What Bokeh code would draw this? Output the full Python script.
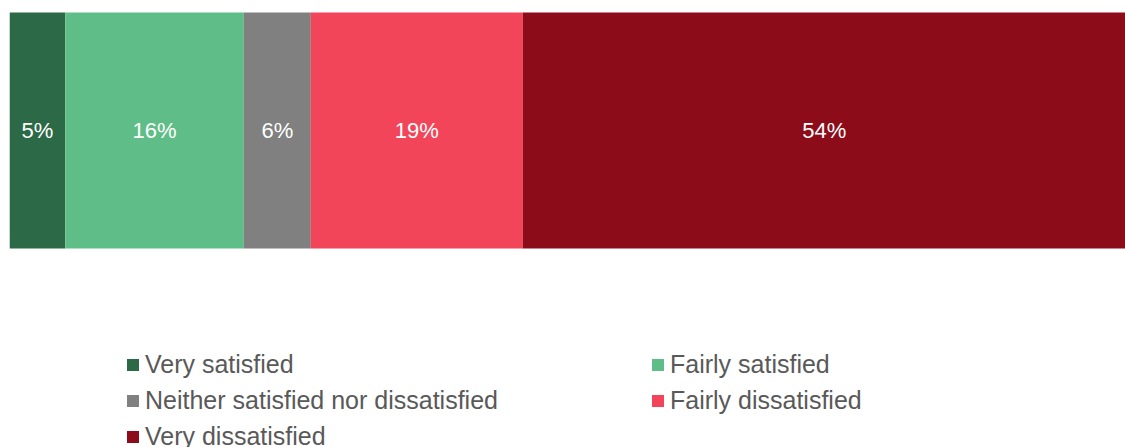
from bokeh.plotting import figure
from bokeh.models import Range1d, Legend, LegendItem, ColumnDataSource
from bokeh.embed import file_html
from bokeh.resources import INLINE
from bokeh.core.properties import value

categories = ["Very satisfied", "Fairly satisfied", "Neither satisfied nor dissatisfied",
              "Fairly dissatisfied", "Very dissatisfied"]
values = [5, 16, 6, 19, 54]
labels = ["5%", "16%", "6%", "19%", "54%"]
colors = ["#2C6946", "#5FBE87", "#808080", "#F24559", "#8C0C19"]

lefts = []
acc = 0
for v in values:
    lefts.append(acc)
    acc += v
rights = [l + v for l, v in zip(lefts, values)]
mids = [(l + r) / 2 for l, r in zip(lefts, rights)]

p = figure(width=1125, height=447, output_backend="svg", toolbar_location=None,
           x_range=Range1d(0, 100), y_range=Range1d(-0.5 - 199 / 236, 0.5 + 12 / 236),
           min_border_left=9, min_border_right=0, min_border_top=0, min_border_bottom=0)
p.axis.visible = False
p.grid.visible = False
p.outline_line_color = None
p.background_fill_color = "white"
p.border_fill_color = "white"

items = []
for i, cat in enumerate(categories):
    src = ColumnDataSource(dict(y=[0], left=[lefts[i]], right=[rights[i]]))
    r = p.hbar(y="y", left="left", right="right", height=1, source=src,
               fill_color=colors[i], line_color=None)
    items.append(LegendItem(label=cat, renderers=[r]))

tsrc = ColumnDataSource(dict(x=mids, y=[0] * len(mids), t=labels))
p.text(x="x", y="y", text="t", source=tsrc, text_color="white",
       text_font=value("Liberation Sans"), text_font_size="22px",
       text_align="center", text_baseline="middle")

legend = Legend(items=items, orientation="horizontal", ncols=2,
                location=(116, -4), label_text_font="Liberation Sans",
                label_text_font_size="25px", label_text_color="#595959",
                glyph_width=15, glyph_height=15, label_standoff=5,
                label_height=22, label_width=498, spacing=7, padding=0, margin=0,
                border_line_color=None, background_fill_alpha=0)
p.add_layout(legend)

open("out.html", "w").write(file_html(p, INLINE))
